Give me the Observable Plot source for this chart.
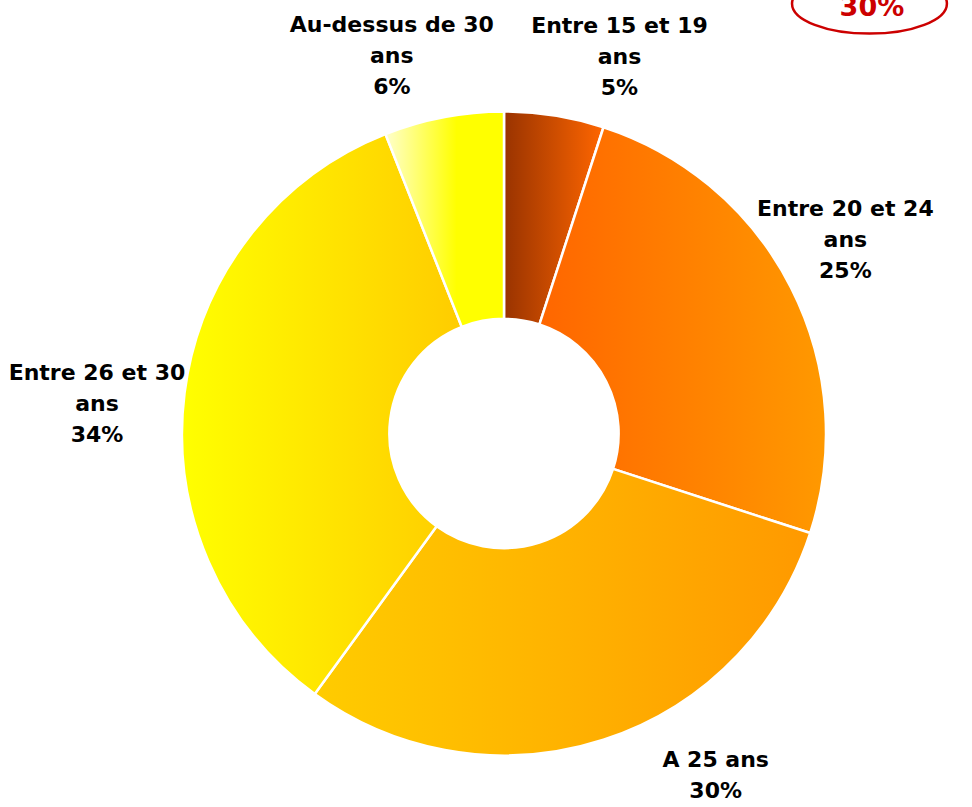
<!DOCTYPE html>
<html><head><meta charset="utf-8">
<script src="https://cdn.jsdelivr.net/npm/d3@7"></script>
<script src="https://cdn.jsdelivr.net/npm/@observablehq/plot@0.6"></script>
<style>body{margin:0;background:#fff;} svg{display:block}</style>
</head><body><div id="chart"></div>
<script>
// ---- data ----
const categories = ["Entre 15 et 19 ans", "Entre 20 et 24 ans", "A 25 ans", "Entre 26 et 30 ans", "Au-dessus de 30 ans"];
const labelLines = ["Entre 15 et 19\nans", "Entre 20 et 24\nans", "A 25 ans", "Entre 26 et 30\nans", "Au-dessus de 30\nans"];
const values = [5, 25, 30, 34, 6];
const calloutText = "30%";

// ---- styles ----
const gradientStops = [
  [[0, "#993300"], [1, "#FF6600"]],
  [[0, "#FF6600"], [1, "#FF9900"]],
  [[0, "#FFCC00"], [1, "#FF9900"]],
  [[0, "#FFFF00"], [1, "#FFCC00"]],
  [[0, "#FFFFCC"], [0.6, "#FFFF00"], [1, "#FFFF00"]]
];
// ---- layout (units of outer radius, angles in degrees clockwise from top) ----
const innerFrac = 0.356;
const labelAngle = [16.96, 60.36, 148.3, 274.2, 343.4];
const labelRadius = [1.224, 1.218, 1.248, 1.269, 1.225];
const callout = {x: 1.141, y: 1.3245, ex: 1.135, ey: 1.335, rx: 0.2405, ry: 0.093};

const W = 972, H = 807, CX = 504, CY = 433.5, R = 322;

const labels = categories.map((c, i) => {
  const a = labelAngle[i] * Math.PI / 180;
  return {
    text: labelLines[i] + "\n" + values[i] + "%",
    x: labelRadius[i] * Math.sin(a),
    y: labelRadius[i] * Math.cos(a)
  };
});

function donut(index, scales) {
  const cx = scales.x(0), cy = scales.y(0);
  const r = scales.x(1) - scales.x(0);
  const arcs = d3.pie().sort(null).value(d => d)(values);
  const arc = d3.arc().innerRadius(r * innerFrac).outerRadius(r);
  const g = d3.create("svg:g");
  const defs = g.append("defs");
  gradientStops.forEach((stops, i) => {
    const lg = defs.append("linearGradient").attr("id", "grad" + i)
      .attr("x1", 0).attr("x2", 1).attr("y1", 0).attr("y2", 0);
    stops.forEach(([o, c]) => lg.append("stop").attr("offset", o).attr("stop-color", c));
  });
  g.append("g").attr("transform", `translate(${cx},${cy})`)
    .selectAll("path").data(arcs).join("path")
    .attr("d", arc)
    .attr("fill", (d, i) => `url(#grad${i})`)
    .attr("stroke", "#fff").attr("stroke-width", 2.5).attr("stroke-linejoin", "round");
  return g.node();
}

function calloutEllipse(index, scales) {
  const r = scales.x(1) - scales.x(0);
  return d3.create("svg:ellipse")
    .attr("cx", scales.x(callout.ex)).attr("cy", scales.y(callout.ey))
    .attr("rx", callout.rx * r).attr("ry", callout.ry * r)
    .attr("fill", "none").attr("stroke", "#CC0000").attr("stroke-width", 2.5).node();
}

const chart = Plot.plot({
  width: W, height: H, margin: 0,
  x: {domain: [-CX / R, (W - CX) / R], axis: null},
  y: {domain: [-(H - CY) / R, CY / R], axis: null},
  marks: [
    donut,
    Plot.text(labels, {x: "x", y: "y", text: "text", fontSize: 22, fontWeight: "bold",
      fontFamily: "DejaVu Sans", lineHeight: 1.41, dy: -3, fill: "#000"}),
    calloutEllipse,
    Plot.text([callout], {x: "x", y: "y", text: () => calloutText, fontSize: 27, fontWeight: "bold",
      fontFamily: "DejaVu Sans", fill: "#CC0000"})
  ]
});
document.getElementById("chart").appendChild(chart);
</script>
</body></html>
